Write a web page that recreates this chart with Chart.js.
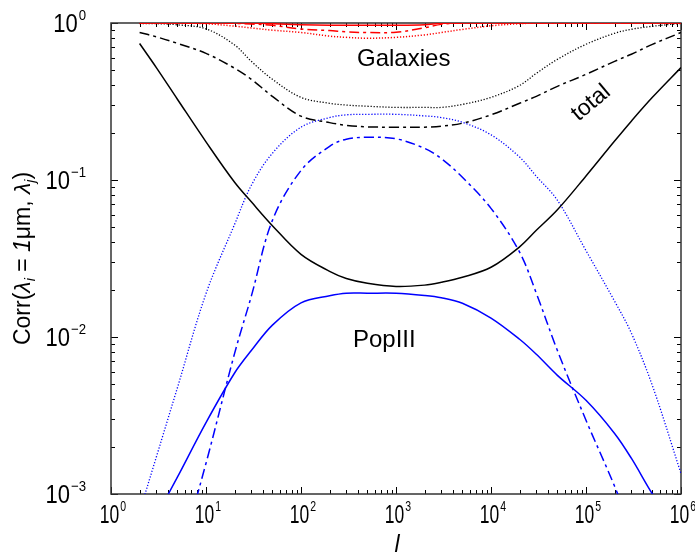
<!DOCTYPE html>
<html>
<head>
<meta charset="utf-8">
<script src="https://cdn.jsdelivr.net/npm/chart.js@4.4.1/dist/chart.umd.min.js"></script>
<style>
  html, body { margin: 0; padding: 0; background: #fff; }
  #wrap { width: 695px; height: 555px; }
</style>
</head>
<body>
<div id="wrap"><canvas id="corrChart" width="695" height="555"></canvas></div>
<script>
// multipole l grid shared by every curve
const ell = [2, 3, 5, 10, 20, 30, 50, 100, 200, 300, 500, 1e3, 2e3, 3e3, 5e3,
  1e4, 2e4, 3e4, 5e4, 1e5, 2e5, 3e5, 5e5, 1e6];

// total (black)
const totalSolid = [0.74, 0.52, 0.327, 0.175, 0.0967, 0.0726, 0.0512, 0.0336, 0.0262, 0.0236,
  0.022, 0.021, 0.0214, 0.0223, 0.024, 0.0278, 0.0375, 0.0478, 0.0646, 0.106, 0.177, 0.237, 0.336, 0.52];
const totalDashDot = [0.87, 0.817, 0.742, 0.641, 0.515, 0.438, 0.341, 0.255, 0.232, 0.223,
  0.218, 0.217, 0.217, 0.22, 0.23, 0.26, 0.308, 0.341, 0.395, 0.471, 0.57, 0.632, 0.731, 0.87];
const totalDotted = [0.99, 0.99, 0.974, 0.918, 0.725, 0.57, 0.438, 0.336, 0.308, 0.3,
  0.295, 0.29, 0.29, 0.29, 0.303, 0.336, 0.4, 0.478, 0.587, 0.732, 0.86, 0.912, 0.953, 0.995];

// PopIII (blue)
const popSolid = [0.00045, 0.00072, 0.00128, 0.00285, 0.0059, 0.0082, 0.0119, 0.0165, 0.0183, 0.019,
  0.019, 0.019, 0.0184, 0.0178, 0.0164, 0.0132, 0.00967, 0.00776, 0.0057, 0.00395, 0.00243, 0.00169, 0.001, 0.00053];
const popDashDot = [0.000048, 0.000116, 0.00035, 0.00157, 0.00787, 0.0182, 0.0553, 0.115, 0.164, 0.182,
  0.187, 0.183, 0.159, 0.137, 0.104, 0.066, 0.0347, 0.019, 0.0082, 0.00295, 0.00112, 0.00059, 0.00025, 0.00008];
const popDotted = [0.00077, 0.00172, 0.00475, 0.0189, 0.0522, 0.0925, 0.148, 0.217, 0.25, 0.26,
  0.262, 0.262, 0.256, 0.25, 0.233, 0.194, 0.14, 0.1056, 0.0743, 0.0355, 0.0169, 0.0106, 0.0049, 0.00135];

// Galaxies (red)
const galSolid = [1, 1, 1, 1, 1, 1, 0.99, 0.975, 0.967, 0.967,
  0.967, 0.967, 0.975, 0.995, 1, 1, 1, 1, 1, 1, 1, 1, 1, 1];
const galDashDot = [1, 1, 1, 1, 0.995, 0.985, 0.967, 0.915, 0.895, 0.878,
  0.869, 0.873, 0.932, 0.98, 1, 1, 1, 1, 1, 1, 1, 1, 1, 1];
const galDotted = [1, 1, 1, 0.99, 0.955, 0.93, 0.9, 0.87, 0.825, 0.81,
  0.8, 0.81, 0.84, 0.87, 0.91, 0.96, 0.99, 1, 1, 1, 1, 1, 1, 1];

const xTickExps = [0, 1, 2, 3, 4, 5, 6];
const yTickExps = [-3, -2, -1, 0];
const minorMantissas = [2, 3, 4, 5, 6, 7, 8, 9];

const BLACK = "#000000";
const BLUE = "#0000ff";
const RED = "#ff0000";
const SOLID = [];
const DASHDOT = [10, 4, 3, 4];
const DOTTED = [1.2, 1.8];
const FONT = "'Liberation Sans', Arial, sans-serif";

function series(values, color, dash, width) {
  return {
    data: ell.map((l, i) => ({ x: l, y: values[i] })),
    borderColor: color,
    borderDash: dash,
    borderWidth: width,
    pointRadius: 0,
    fill: false,
    tension: 0.35,
  };
}

function powLabel(ctx, exp, x, y, align, squeeze) {
  const base = "10";
  const sup = exp < 0 ? "\u2212" + -exp : String(exp);
  ctx.font = "25px " + FONT;
  const wb = ctx.measureText(base).width * squeeze;
  ctx.font = "15px " + FONT;
  const ws = ctx.measureText(sup).width * squeeze;
  const total = wb + ws + 1;
  const left = align === "right" ? x - total : x - total / 2;
  ctx.save();
  ctx.translate(left, y);
  ctx.scale(squeeze, 1);
  ctx.textAlign = "left";
  ctx.textBaseline = "alphabetic";
  ctx.font = "25px " + FONT;
  ctx.fillText(base, 0, 0);
  ctx.font = "15px " + FONT;
  ctx.fillText(sup, (wb + 1) / squeeze, -12);
  ctx.restore();
}

const frameTicks = {
  id: "frameTicks",
  beforeDatasetsDraw(chart) {
    const { ctx, chartArea: a, scales: { x, y } } = chart;
    ctx.save();
    ctx.strokeStyle = BLACK;
    ctx.lineWidth = 1;
    ctx.beginPath();
    xTickExps.forEach((e) => {
      const marks = [{ v: Math.pow(10, e), len: 7 }];
      if (e < 6) minorMantissas.forEach((m) => marks.push({ v: m * Math.pow(10, e), len: 4 }));
      marks.forEach((t) => {
        const px = Math.round(x.getPixelForValue(t.v)) + 0.5;
        ctx.moveTo(px, a.bottom); ctx.lineTo(px, a.bottom - t.len);
        ctx.moveTo(px, a.top); ctx.lineTo(px, a.top + t.len);
      });
    });
    yTickExps.forEach((e) => {
      const marks = [{ v: Math.pow(10, e), len: 7 }];
      if (e < 0) minorMantissas.forEach((m) => marks.push({ v: m * Math.pow(10, e), len: 4 }));
      marks.forEach((t) => {
        const py = Math.round(y.getPixelForValue(t.v)) + 0.5;
        ctx.moveTo(a.left, py); ctx.lineTo(a.left + t.len, py);
        ctx.moveTo(a.right, py); ctx.lineTo(a.right - t.len, py);
      });
    });
    ctx.stroke();
    ctx.lineWidth = 1.5;
    ctx.strokeStyle = "#333";
    ctx.strokeRect(a.left, a.top, a.right - a.left, a.bottom - a.top);
    ctx.restore();
  },
  afterDraw(chart) {
    const { ctx, chartArea: a, scales: { x, y } } = chart;
    ctx.save();
    ctx.fillStyle = BLACK;
    xTickExps.forEach((e) => powLabel(ctx, e, x.getPixelForValue(Math.pow(10, e)) + 2, a.bottom + 29, "center", 0.7));
    yTickExps.forEach((e) => powLabel(ctx, e, 86, y.getPixelForValue(Math.pow(10, e)) + 9, "right", 0.88));

    // x title
    ctx.font = "italic 23px " + FONT;
    ctx.textAlign = "center";
    ctx.fillText("l", 397, 552);

    // y title
    ctx.save();
    ctx.translate(30, (a.top + a.bottom) / 2);
    ctx.rotate(-Math.PI / 2);
    const parts = [
      ["Corr(", "23px", 0],
      ["\u03bb", "italic 23px", 0],
      ["i", "italic 14px", 5],
      [" = ", "23px", 0],
      ["1", "italic 23px", 0],
      ["\u03bcm, ", "23px", 0],
      ["\u03bb", "italic 23px", 0],
      ["j", "italic 14px", 5],
      [")", "23px", 0],
    ];
    let w = 0;
    parts.forEach((p) => { ctx.font = p[1] + " " + FONT; w += ctx.measureText(p[0]).width; });
    let cx = -w / 2;
    ctx.textAlign = "left";
    parts.forEach((p) => {
      ctx.font = p[1] + " " + FONT;
      ctx.fillText(p[0], cx, p[2]);
      cx += ctx.measureText(p[0]).width;
    });
    ctx.restore();

    // curve labels
    ctx.font = "24px " + FONT;
    ctx.textAlign = "left";
    ctx.fillText("Galaxies", 357, 66);
    ctx.fillText("PopIII", 353, 347);
    ctx.save();
    ctx.translate(591, 103);
    ctx.rotate(-40 * Math.PI / 180);
    ctx.font = "23px " + FONT;
    ctx.textAlign = "center";
    ctx.textBaseline = "middle";
    ctx.fillText("total", 0, 0);
    ctx.restore();
    ctx.restore();
  },
};

new Chart(document.getElementById("corrChart"), {
  type: "line",
  data: {
    datasets: [
      series(galSolid, RED, SOLID, 1.5),
      series(galDashDot, RED, DASHDOT, 1.5),
      series(galDotted, RED, DOTTED, 1.5),
      series(totalSolid, BLACK, SOLID, 1.5),
      series(totalDashDot, BLACK, DASHDOT, 1.5),
      series(totalDotted, BLACK, DOTTED, 1.3),
      series(popSolid, BLUE, SOLID, 1.5),
      series(popDashDot, BLUE, DASHDOT, 1.5),
      series(popDotted, BLUE, DOTTED, 1.3),
    ],
  },
  options: {
    responsive: false,
    animation: false,
    layout: { padding: { left: 111, top: 23, right: 14, bottom: 61 } },
    scales: {
      x: { type: "logarithmic", min: 1, max: 1e6, display: false },
      y: { type: "logarithmic", min: 1e-3, max: 1, display: false },
    },
    plugins: { legend: { display: false }, tooltip: { enabled: false } },
  },
  plugins: [frameTicks],
});
</script>
</body>
</html>
